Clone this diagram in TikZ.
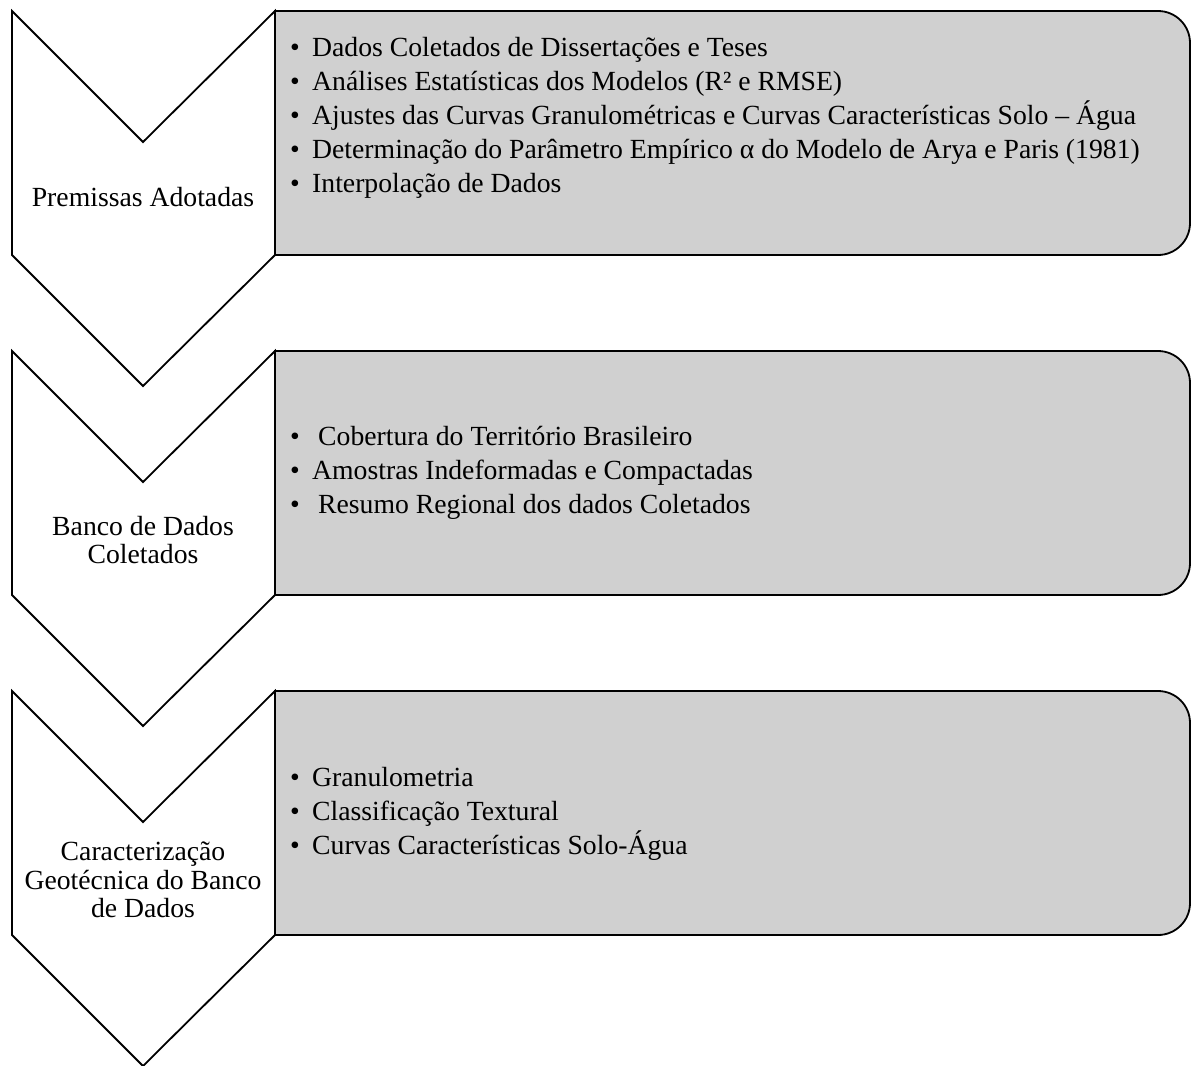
\documentclass[tikz,border=0pt]{standalone}
\usepackage{fontspec}
\setmainfont{Liberation Serif}
\usetikzlibrary{positioning}
\definecolor{panelgray}{RGB}{208,208,208}
\tikzstyle{chevron} = [draw=black, fill=white, line width=1.8pt, line join=miter]
\tikzstyle{panel} = [draw=black, fill=panelgray, line width=1.8pt]
\tikzstyle{stagelabel} = [align=center, inner sep=0pt, font=\fontsize{27.7}{28.5}\selectfont]
\tikzstyle{itemlist} = [align=left, inner sep=0pt, anchor=north west, font=\fontsize{27.7}{34}\selectfont]
\newcommand{\itm}{\strut\makebox[22pt][l]{•}}

\begin{document}
\begin{tikzpicture}[x=1pt, y=-1pt]
\useasboundingbox (0,0) rectangle (1192,1066);
% panels and chevrons
\foreach \dy in {0,340,680} {
  \draw [panel] (275,11+\dy) -- (1158,11+\dy) arc[start angle=-90, end angle=0, radius=32]
    -- (1190,223+\dy) arc[start angle=0, end angle=90, radius=32] -- (275,255+\dy) -- cycle;
  \draw [chevron] (12,11+\dy) -- (143,142+\dy) -- (275,11+\dy) -- (275,255+\dy)
    -- (143,386+\dy) -- (12,255+\dy) -- cycle;
}
\node (S1) [stagelabel] at (143,197) {Premissas Adotadas};
\node (S2) [stagelabel] at (143,540) {Banco de Dados\\Coletados};
\node (S3) [stagelabel] at (143,880) {Caracterização\\Geotécnica do Banco\\de Dados};
\node (L1) [itemlist] at (290,32.2) {\itm Dados Coletados de Dissertações e Teses\\
\itm Análises Estatísticas dos Modelos (R² e RMSE)\\
\itm Ajustes das Curvas Granulométricas e Curvas Características Solo – Água\\
\itm Determinação do Parâmetro Empírico α do Modelo de Arya e Paris (1981)\\
\itm Interpolação de Dados};
\node (L2) [itemlist] at (290,421.2) {\itm\hspace{6pt}Cobertura do Território Brasileiro\\
\itm Amostras Indeformadas e Compactadas\\
\itm\hspace{6pt}Resumo Regional dos dados Coletados};
\node (L3) [itemlist] at (290,762.2) {\itm Granulometria\\
\itm Classificação Textural\\
\itm Curvas Características Solo-Água};
\end{tikzpicture}
\end{document}
